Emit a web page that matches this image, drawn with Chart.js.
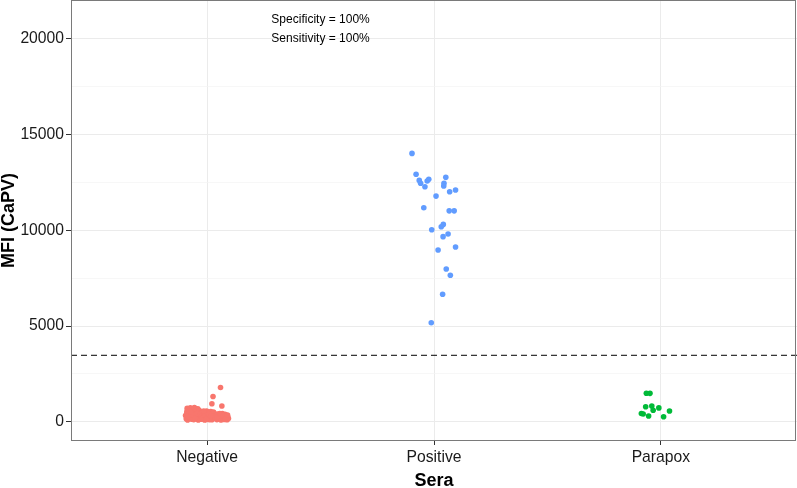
<!DOCTYPE html>
<html><head><meta charset="utf-8">
<script src="https://cdn.jsdelivr.net/npm/chart.js@4.4.0/dist/chart.umd.min.js"></script>
<style>html,body{margin:0;padding:0;background:#fff}#wrap{width:797px;height:488px;position:relative}</style>
</head><body><div id="wrap"><canvas id="c"></canvas></div>
<script>
// ---- data ----
const categories = ['Negative', 'Positive', 'Parapox'];
const categoryPositions = [1, 2, 3];
const yTickValues = [0, 2500, 5000, 7500, 10000, 12500, 15000, 17500, 20000];
const yMajorStep = 5000;
const cutoff = 3470;

// [jittered category position, MFI]
const negative = [
  [0.905,320],[0.908,150],[0.911,540],[0.914,90],[0.917,660],[0.920,250],[0.923,410],[0.926,720],[0.929,180],[0.932,480],
  [0.935,300],[0.938,610],[0.941,110],[0.944,740],[0.947,380],[0.950,230],[0.953,560],[0.956,140],[0.959,680],[0.962,330],
  [0.965,470],[0.968,200],[0.910,420],[0.921,600],[0.933,130],[0.943,500],[0.952,660],[0.961,90],[0.966,580],[0.918,280],
  [0.939,370],[0.957,430],[0.927,520],[0.946,160],[0.912,700],
  [0.971,420],[0.974,130],[0.977,300],[0.980,520],[0.983,210],[0.986,380],[0.989,90],[0.992,460],[0.995,260],[0.998,550],
  [1.001,170],[1.004,340],[1.007,480],[1.010,110],[1.013,290],[1.016,530],[1.019,200],[1.022,400],[1.025,150],[1.028,510],
  [1.031,250],[1.034,360],[0.979,160],[0.991,330],[1.003,440],[1.012,240],[1.021,100],[1.030,450],[0.985,560],[1.009,390],
  [0.996,120],[1.018,310],
  [1.037,180],[1.040,320],[1.043,110],[1.046,400],[1.049,250],[1.052,140],[1.055,350],[1.058,210],[1.061,90],[1.064,300],
  [1.067,420],[1.070,160],[1.073,270],[1.076,120],[1.079,380],[1.082,200],[1.085,310],[1.088,100],[1.091,260],[1.094,170],
  [1.044,230],[1.056,430],[1.069,330],[1.081,140],[1.090,350],
  [1.059,1790],[1.026,1320],[1.021,940],[1.065,820]
];
const positive = [
  [1.903,14020],[1.921,12930],[1.935,12610],[1.941,12460],[1.960,12280],[1.970,12580],[1.977,12670],
  [2.052,12770],[2.044,12460],[2.043,12320],[2.069,12020],[2.095,12110],[2.009,11790],[1.955,11180],
  [2.067,11020],[2.089,11020],[2.041,10310],[2.032,10190],[1.990,10030],[2.062,9810],[2.040,9670],
  [2.095,9130],[2.018,8970],[2.054,7980],[2.072,7650],[2.038,6660],[1.988,5170]
];
const parapox = [
  [2.936,1490],[2.952,1480],[2.933,780],[2.960,820],[2.966,600],[2.991,720],
  [3.038,560],[2.922,400],[2.914,430],[2.946,300],[3.012,260]
];
const annotationLines = [
  {x: 1.5, y: 21000, text: 'Specificity = 100%'},
  {x: 1.5, y: 20000, text: 'Sensitivity = 100%'}
];

// ---- chart ----
const FONT = "'Liberation Sans', Arial, Helvetica, sans-serif";
const toXY = arr => arr.map(p => ({x: p[0], y: p[1]}));

const borderAndText = {
  id: 'borderAndText',
  afterDraw(chart) {
    const {ctx, chartArea: a, scales} = chart;
    const L = Math.round(a.left), T = Math.round(a.top), R = Math.round(a.right), B = Math.round(a.bottom);
    ctx.save();
    ctx.strokeStyle = '#7a7a7a';
    ctx.lineWidth = 1;
    ctx.strokeRect(L + 0.5, T + 0.5, (R - 2) - L, (B - 1) - T);
    ctx.fillStyle = '#000';
    ctx.font = '12px ' + FONT;
    ctx.textAlign = 'center';
    ctx.textBaseline = 'middle';
    annotationLines.forEach(t => {
      ctx.fillText(t.text, scales.x.getPixelForValue(t.x), scales.y.getPixelForValue(t.y));
    });
    ctx.restore();
  }
};

const pointStyle = (c) => ({
  backgroundColor: c, borderColor: c, pointRadius: 2.8, pointBorderWidth: 0,
  pointHoverRadius: 2.8
});

const zeroPad = s => { s.paddingTop = 0; s.paddingBottom = 0; s.paddingLeft = 0; s.paddingRight = 0; };

new Chart(document.getElementById('c'), {
  type: 'scatter',
  data: {
    datasets: [
      Object.assign({label: categories[0], data: toXY(negative)}, pointStyle('#F8766D')),
      Object.assign({label: categories[1], data: toXY(positive)}, pointStyle('#619CFF')),
      Object.assign({label: categories[2], data: toXY(parapox)}, pointStyle('#00BA38')),
      {
        label: 'cutoff', type: 'line',
        data: [{x: 0.4, y: cutoff}, {x: 3.6, y: cutoff}],
        borderColor: '#000', borderWidth: 1, borderDash: [6, 4],
        pointRadius: 0, fill: false
      }
    ]
  },
  options: {
    responsive: true, maintainAspectRatio: false, animation: false, devicePixelRatio: 1,
    layout: {autoPadding: false, padding: {top: 0, right: 0, left: 0, bottom: 0}},
    plugins: {legend: {display: false}, tooltip: {enabled: false}},
    scales: {
      x: {
        type: 'linear', min: 0.4, max: 3.6,
        afterBuildTicks: s => { s.ticks = categoryPositions.map(v => ({value: v})); },
        afterFit: s => { s.height = 47; zeroPad(s); },
        border: {display: false},
        grid: {color: '#EBEBEB', lineWidth: 1, tickLength: 4, tickColor: '#333', drawTicks: true},
        ticks: {
          autoSkip: false, maxRotation: 0, padding: 3, color: '#1a1a1a',
          font: {family: FONT, size: 15.7},
          callback: v => categories[categoryPositions.indexOf(v)]
        },
        title: {display: true, text: 'Sera', color: '#000', padding: {top: 0, bottom: -2},
                font: {family: FONT, size: 18, weight: 'bold', lineHeight: 1}}
      },
      y: {
        type: 'linear', min: -1009, max: 22038,
        afterBuildTicks: s => { s.ticks = yTickValues.map(v => ({value: v})); },
        afterFit: s => { s.width = 71; zeroPad(s); },
        border: {display: false},
        grid: {
          color: c => (c.tick && c.tick.value % yMajorStep === 0) ? '#EBEBEB' : '#F3F3F3',
          lineWidth: c => (c.tick && c.tick.value % yMajorStep === 0) ? 1 : 0.7,
          tickColor: c => (c.tick && c.tick.value % yMajorStep === 0) ? '#333' : 'rgba(0,0,0,0)',
          tickLength: 5, drawTicks: true
        },
        ticks: {
          autoSkip: false, padding: 2, color: '#1a1a1a',
          font: {family: FONT, size: 15.7},
          callback: v => (v % yMajorStep === 0 ? String(v) : '')
        },
        title: {display: true, text: 'MFI (CaPV)', color: '#000', padding: 0,
                font: {family: FONT, size: 18, weight: 'bold', lineHeight: 1}}
      }
    }
  },
  plugins: [borderAndText]
});
</script>
</body></html>
